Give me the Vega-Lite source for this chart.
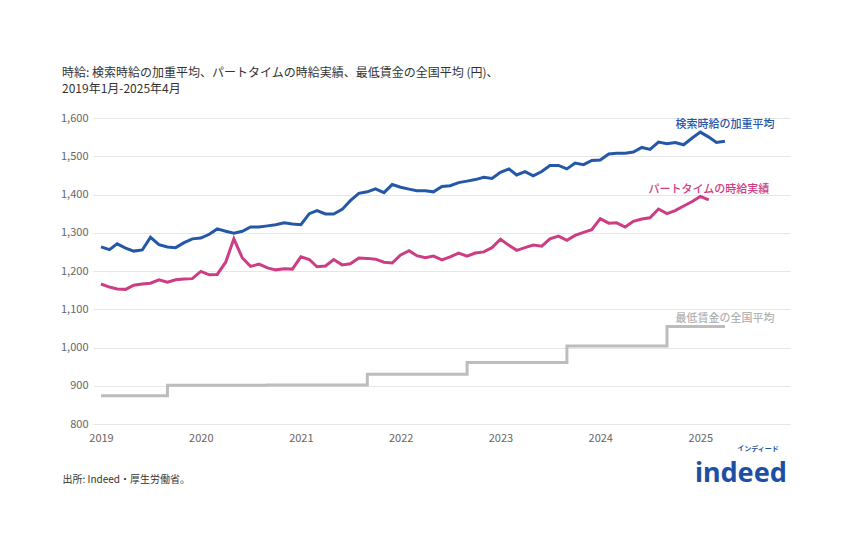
{
  "$schema": "https://vega.github.io/schema/vega-lite/v6.json",
  "autosize": {"type": "none"},
  "width": 689,
  "height": 306,
  "padding": {"left": 101, "top": 118, "right": 59, "bottom": 127},
  "background": "white",
  "config": {
    "font": "Noto Sans CJK JP",
    "view": {"stroke": null},
    "axis": {"labelFont": "Noto Sans CJK JP", "titleFont": "Noto Sans CJK JP"}
  },
  "title": {
    "text": ["時給: 検索時給の加重平均、パートタイムの時給実績、最低賃金の全国平均 (円)、", "2019年1月-2025年4月"],
    "anchor": "start",
    "frame": "group",
    "dx": -39,
    "offset": 16,
    "fontSize": 12,
    "fontWeight": "normal",
    "color": "#333333",
    "lineHeight": 16
  },
  "data": {
    "values": [
      {"date": "2019-01", "search": 1263, "part": 1166, "minwage": 874},
      {"date": "2019-02", "search": 1256, "part": 1158, "minwage": 874},
      {"date": "2019-03", "search": 1271, "part": 1153, "minwage": 874},
      {"date": "2019-04", "search": 1260, "part": 1152, "minwage": 874},
      {"date": "2019-05", "search": 1252, "part": 1163, "minwage": 874},
      {"date": "2019-06", "search": 1255, "part": 1166, "minwage": 874},
      {"date": "2019-07", "search": 1288, "part": 1168, "minwage": 874},
      {"date": "2019-08", "search": 1269, "part": 1177, "minwage": 874},
      {"date": "2019-09", "search": 1263, "part": 1171, "minwage": 901},
      {"date": "2019-10", "search": 1261, "part": 1177, "minwage": 901},
      {"date": "2019-11", "search": 1274, "part": 1179, "minwage": 901},
      {"date": "2019-12", "search": 1284, "part": 1180, "minwage": 901},
      {"date": "2020-01", "search": 1286, "part": 1199, "minwage": 901},
      {"date": "2020-02", "search": 1296, "part": 1190, "minwage": 901},
      {"date": "2020-03", "search": 1310, "part": 1191, "minwage": 901},
      {"date": "2020-04", "search": 1304, "part": 1223, "minwage": 901},
      {"date": "2020-05", "search": 1299, "part": 1284, "minwage": 901},
      {"date": "2020-06", "search": 1304, "part": 1234, "minwage": 901},
      {"date": "2020-07", "search": 1315, "part": 1212, "minwage": 901},
      {"date": "2020-08", "search": 1315, "part": 1218, "minwage": 901},
      {"date": "2020-09", "search": 1318, "part": 1208, "minwage": 902},
      {"date": "2020-10", "search": 1321, "part": 1203, "minwage": 902},
      {"date": "2020-11", "search": 1326, "part": 1206, "minwage": 902},
      {"date": "2020-12", "search": 1323, "part": 1205, "minwage": 902},
      {"date": "2021-01", "search": 1321, "part": 1237, "minwage": 902},
      {"date": "2021-02", "search": 1350, "part": 1230, "minwage": 902},
      {"date": "2021-03", "search": 1358, "part": 1211, "minwage": 902},
      {"date": "2021-04", "search": 1349, "part": 1213, "minwage": 902},
      {"date": "2021-05", "search": 1349, "part": 1230, "minwage": 902},
      {"date": "2021-06", "search": 1361, "part": 1216, "minwage": 902},
      {"date": "2021-07", "search": 1384, "part": 1219, "minwage": 902},
      {"date": "2021-08", "search": 1403, "part": 1234, "minwage": 902},
      {"date": "2021-09", "search": 1407, "part": 1233, "minwage": 930},
      {"date": "2021-10", "search": 1415, "part": 1231, "minwage": 930},
      {"date": "2021-11", "search": 1405, "part": 1223, "minwage": 930},
      {"date": "2021-12", "search": 1426, "part": 1221, "minwage": 930},
      {"date": "2022-01", "search": 1419, "part": 1242, "minwage": 930},
      {"date": "2022-02", "search": 1414, "part": 1253, "minwage": 930},
      {"date": "2022-03", "search": 1410, "part": 1240, "minwage": 930},
      {"date": "2022-04", "search": 1410, "part": 1235, "minwage": 930},
      {"date": "2022-05", "search": 1407, "part": 1239, "minwage": 930},
      {"date": "2022-06", "search": 1421, "part": 1229, "minwage": 930},
      {"date": "2022-07", "search": 1423, "part": 1237, "minwage": 930},
      {"date": "2022-08", "search": 1431, "part": 1247, "minwage": 930},
      {"date": "2022-09", "search": 1435, "part": 1239, "minwage": 961},
      {"date": "2022-10", "search": 1439, "part": 1247, "minwage": 961},
      {"date": "2022-11", "search": 1445, "part": 1250, "minwage": 961},
      {"date": "2022-12", "search": 1442, "part": 1261, "minwage": 961},
      {"date": "2023-01", "search": 1458, "part": 1283, "minwage": 961},
      {"date": "2023-02", "search": 1467, "part": 1267, "minwage": 961},
      {"date": "2023-03", "search": 1451, "part": 1254, "minwage": 961},
      {"date": "2023-04", "search": 1460, "part": 1261, "minwage": 961},
      {"date": "2023-05", "search": 1449, "part": 1268, "minwage": 961},
      {"date": "2023-06", "search": 1460, "part": 1265, "minwage": 961},
      {"date": "2023-07", "search": 1476, "part": 1284, "minwage": 961},
      {"date": "2023-08", "search": 1476, "part": 1291, "minwage": 961},
      {"date": "2023-09", "search": 1467, "part": 1280, "minwage": 1004},
      {"date": "2023-10", "search": 1482, "part": 1293, "minwage": 1004},
      {"date": "2023-11", "search": 1478, "part": 1301, "minwage": 1004},
      {"date": "2023-12", "search": 1489, "part": 1308, "minwage": 1004},
      {"date": "2024-01", "search": 1490, "part": 1337, "minwage": 1004},
      {"date": "2024-02", "search": 1506, "part": 1325, "minwage": 1004},
      {"date": "2024-03", "search": 1508, "part": 1326, "minwage": 1004},
      {"date": "2024-04", "search": 1508, "part": 1315, "minwage": 1004},
      {"date": "2024-05", "search": 1511, "part": 1330, "minwage": 1004},
      {"date": "2024-06", "search": 1523, "part": 1336, "minwage": 1004},
      {"date": "2024-07", "search": 1518, "part": 1339, "minwage": 1004},
      {"date": "2024-08", "search": 1537, "part": 1362, "minwage": 1004},
      {"date": "2024-09", "search": 1533, "part": 1350, "minwage": 1055},
      {"date": "2024-10", "search": 1536, "part": 1358, "minwage": 1055},
      {"date": "2024-11", "search": 1530, "part": 1370, "minwage": 1055},
      {"date": "2024-12", "search": 1547, "part": 1381, "minwage": 1055},
      {"date": "2025-01", "search": 1563, "part": 1395, "minwage": 1055},
      {"date": "2025-02", "search": 1550, "part": 1386, "minwage": 1055},
      {"date": "2025-03", "search": 1536, "part": null, "minwage": 1055},
      {"date": "2025-04", "search": 1539, "part": null, "minwage": 1055}
    ],
    "format": {"parse": {"date": "date:'%Y-%m'"}}
  },
  "transform": [
    {"fold": ["minwage", "part", "search"], "as": ["series", "wage"]}
  ],
  "encoding": {
    "x": {
      "field": "date",
      "type": "temporal",
      "scale": {"domain": [{"year": 2019, "month": 1, "date": 1}, {"year": 2025, "month": 11, "date": 25}]},
      "axis": {
        "format": "%Y",
        "tickCount": {"interval": "year", "step": 1},
        "grid": false,
        "domain": false,
        "ticks": false,
        "labelFlush": false,
        "labelPadding": 8,
        "labelFontSize": 11,
        "labelColor": "#666666",
        "title": "出所: Indeed・厚生労働省。",
        "titleX": -39,
        "titleY": 55,
        "titleAlign": "left",
        "titleBaseline": "middle",
        "titleFontSize": 10,
        "titleFontWeight": "normal",
        "titleColor": "#333333"
      }
    },
    "y": {
      "field": "wage",
      "type": "quantitative",
      "scale": {"domain": [800, 1600]},
      "axis": {
        "values": [800, 900, 1000, 1100, 1200, 1300, 1400, 1500, 1600],
        "format": ",.0f",
        "title": null,
        "domain": false,
        "ticks": true,
        "tickSize": 8,
        "tickColor": "#e6e6e6",
        "gridColor": "#e6e6e6",
        "labelOverlap": false,
        "labelPadding": 5,
        "labelFontSize": 11,
        "labelColor": "#666666"
      }
    }
  },
  "layer": [
    {
      "transform": [{"filter": "datum.series == 'minwage'"}],
      "mark": {"type": "line", "color": "#bdbdbd", "strokeWidth": 3, "interpolate": "step-after"}
    },
    {
      "transform": [{"filter": "datum.series == 'part'"}],
      "mark": {"type": "line", "color": "#cc3d84", "strokeWidth": 3}
    },
    {
      "transform": [{"filter": "datum.series == 'search'"}],
      "mark": {"type": "line", "color": "#2557a7", "strokeWidth": 3}
    },
    {
      "transform": [{"filter": "datum.series == 'search' && year(datum.date) == 2025 && month(datum.date) == 3"}],
      "mark": {"type": "text", "text": "検索時給の加重平均", "color": "#2557a7", "fontSize": 11, "fontWeight": 500, "align": "center", "dy": -16}
    },
    {
      "transform": [{"filter": "datum.series == 'part' && year(datum.date) == 2025 && month(datum.date) == 1"}],
      "mark": {"type": "text", "text": "パートタイムの時給実績", "color": "#cc3d84", "fontSize": 11, "fontWeight": 500, "align": "center", "dy": -10}
    },
    {
      "transform": [{"filter": "datum.series == 'minwage' && year(datum.date) == 2025 && month(datum.date) == 3"}],
      "mark": {"type": "text", "text": "最低賃金の全国平均", "color": "#b3b3b3", "fontSize": 11, "fontWeight": 500, "align": "center", "dy": -7}
    },
    {
      "transform": [{"filter": "datum.series == 'minwage' && year(datum.date) == 2025 && month(datum.date) == 3"}],
      "mark": {"type": "text", "text": "indeed", "font": "Noto Sans", "fontSize": 27, "fontWeight": "bold", "color": "#1f4fa3", "align": "center", "baseline": "alphabetic", "dx": 16, "dy": 156}
    },
    {
      "transform": [{"filter": "datum.series == 'minwage' && year(datum.date) == 2025 && month(datum.date) == 3"}],
      "mark": {"type": "text", "text": "インディード", "fontSize": 7, "fontWeight": "bold", "color": "#1f4fa3", "align": "center", "baseline": "alphabetic", "dx": 33, "dy": 125}
    }
  ]
}
